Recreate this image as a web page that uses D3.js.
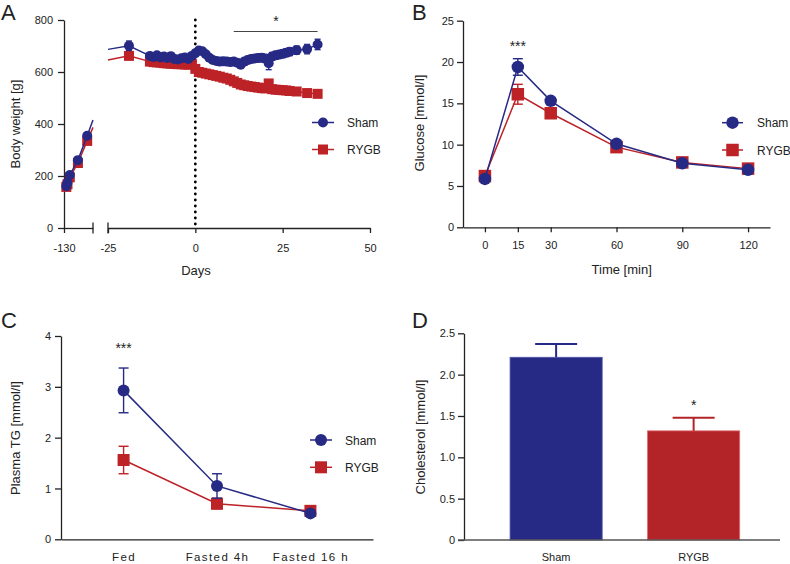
<!DOCTYPE html>
<html>
<head>
<meta charset="utf-8">
<script src="https://cdn.jsdelivr.net/npm/d3@7"></script>
<style>
  body { margin: 0; background: #fff; }
  svg text { font-family: "Liberation Sans", Arial, sans-serif; fill: #222; }
</style>
</head>
<body>
<div class="canvas"></div>
<script>
// ---- data ----
// A: body weight, early segment (before the axis break)
const earlyDays = [-128, -127, -125, -118, -110];
const earlySham = [161, 174, 204, 261, 355];
const earlyShamErr = [10, 8, 10, 12, 12];
const earlyRygb = [158, 168, 195, 250, 335];
const earlyRygbErr = [8, 8, 10, 12, 12];
// where the lines leave / enter the two axis segments
const leadOut = { day: -105, sham: 415, rygb: 387 };
const leadIn = { day: -25, sham: 687, rygb: 646 };

// A: late segment
const lateDays = [-19, -13, -12, -11, -10, -9, -8, -7, -6, -5, -4, -3, -2, -1, 0,
  1, 2, 3, 4, 5, 6, 7, 8, 9, 10, 11, 12, 13, 14, 15, 16, 17, 18, 19, 20, 21, 22, 23, 24, 25, 26, 27,
  29, 32, 35];
const lateSham = [701, 662, 658, 664, 656, 660, 654, 661, 650, 648, 653, 656, 650, 662, 672,
  683, 680, 668, 655, 646, 642, 640, 641, 640, 638, 640, 636, 628, 640, 646, 650, 652, 654, 655, 652, 634, 660, 664, 667, 670, 674, 678,
  684, 688, 706];
const lateShamErr = [18, 10, 9, 10, 8, 9, 8, 10, 8, 8, 9, 9, 8, 10, 12,
  10, 9, 8, 8, 7, 7, 7, 7, 8, 8, 9, 10, 14, 12, 14, 14, 14, 14, 15, 15, 25, 15, 15, 15, 15, 15, 15,
  16, 18, 20];
const lateRygb = [662, 640, 638, 637, 636, 634, 633, 632, 631, 630, 630, 629, 628, 632, 612,
  600, 597, 594, 591, 588, 585, 582, 578, 575, 570, 564, 558, 552, 549, 546, 544, 542, 540, 538, 537, 556, 534, 532, 531, 530, 529, 527,
  525, 519, 516];
const lateRygbErr = [10, 6, 6, 6, 6, 6, 6, 6, 6, 6, 6, 6, 6, 6, 8,
  6, 6, 6, 6, 6, 6, 6, 6, 6, 6, 6, 6, 6, 6, 6, 6, 6, 6, 6, 6, 14, 6, 6, 6, 6, 6, 6,
  6, 6, 8];

// B: glucose tolerance
const times = [0, 15, 30, 60, 90, 120];
const glucoseSham = [5.85, 19.4, 15.3, 10.1, 7.75, 6.95];
const glucoseShamErr = [0.2, 1.0, 0.35, 0.4, 0.25, 0.2];
const glucoseRygb = [6.2, 16.1, 13.8, 9.7, 7.85, 7.1];
const glucoseRygbErr = [0.3, 1.2, 0.45, 0.3, 0.3, 0.3];

// C: plasma TG
const tgGroups = ["Fed", "Fasted 4h", "Fasted 16 h"];
const tgSham = [2.93, 1.05, 0.51];
const tgShamErr = [0.44, 0.24, 0.05];
const tgRygb = [1.56, 0.7, 0.56];
const tgRygbErr = [0.27, 0.1, 0.05];

// D: cholesterol
const cholGroups = ["Sham", "RYGB"];
const cholMean = [2.21, 1.32];
const cholErr = [0.16, 0.16];

// ---- setup ----
const blue = "#262a84";
const red = "#bd2227";
const ink = "#222";

const svg = d3.select(".canvas").append("svg").attr("width", 790).attr("height", 564);

function styleAxis(g, size) {
  g.attr("font-family", null).attr("font-size", size || 11);
  g.selectAll("path, line").attr("stroke", ink).attr("stroke-width", 1.3);
  g.selectAll("text").attr("fill", ink);
  return g;
}

function panelLetter(x, y, t) {
  svg.append("text").attr("x", x).attr("y", y).attr("font-size", 22).text(t);
}

function yTitle(x, y, t) {
  svg.append("text")
    .attr("transform", `translate(${x},${y}) rotate(-90)`)
    .attr("text-anchor", "middle")
    .attr("font-size", 13)
    .text(t);
}

function marker(g, shape, cx, cy, size, color) {
  if (shape === "circle") {
    g.append("circle").attr("cx", cx).attr("cy", cy).attr("r", size / 2).attr("fill", color);
  } else {
    g.append("rect")
      .attr("x", cx - size / 2).attr("y", cy - size / 2)
      .attr("width", size).attr("height", size).attr("fill", color);
  }
}

// line + error bars + markers for one series
function series(g, xs, ys, es, x, y, color, shape, size, capW, extraLine) {
  const pts = xs.map((d, i) => ({ x: d, y: ys[i], e: es[i] }));
  const linePts = extraLine ? extraLine(pts) : pts;
  const line = d3.line().x((d) => x(d.x)).y((d) => y(d.y));
  g.append("path").datum(linePts)
    .attr("fill", "none").attr("stroke", color).attr("stroke-width", 1.5).attr("d", line);

  const eb = g.append("g").attr("stroke", color).attr("stroke-width", 1.4);
  pts.forEach((d) => {
    const px = x(d.x);
    eb.append("line").attr("x1", px).attr("x2", px).attr("y1", y(d.y - d.e)).attr("y2", y(d.y + d.e));
    [d.y - d.e, d.y + d.e].forEach((v) => {
      eb.append("line").attr("x1", px - capW / 2).attr("x2", px + capW / 2).attr("y1", y(v)).attr("y2", y(v));
    });
  });
  pts.forEach((d) => marker(g, shape, x(d.x), y(d.y), size, color));
}

function legend(x1, x2, yy, textX, shape, size, color, label) {
  const g = svg.append("g");
  g.append("line").attr("x1", x1).attr("x2", x2).attr("y1", yy).attr("y2", yy)
    .attr("stroke", color).attr("stroke-width", 1.5);
  marker(g, shape, (x1 + x2) / 2, yy, size, color);
  g.append("text").attr("x", textX).attr("y", yy + 4.5).attr("font-size", 12).text(label);
}

function stars(x, y, t) {
  svg.append("text").attr("x", x).attr("y", y).attr("text-anchor", "middle")
    .attr("font-size", 14).text(t);
}

const plain = (d) => String(d);

// ================= A =================
const yA = d3.scaleLinear().domain([0, 800]).range([228, 20]);
const xA1 = d3.scaleLinear().domain([-130, -105]).range([64, 93]);
const xA2 = d3.scaleLinear().domain([-25, 50]).range([108, 370]);

const gA = svg.append("g");

styleAxis(gA.append("g").attr("transform", "translate(64,0)")
  .call(d3.axisLeft(yA).tickValues([0, 200, 400, 600, 800]).tickSize(6).tickPadding(5).tickSizeOuter(0)));
styleAxis(gA.append("g").attr("transform", "translate(0,228)")
  .call(d3.axisBottom(xA1).tickValues([-130]).tickFormat(plain).tickSize(5).tickPadding(11).tickSizeOuter(0)));
styleAxis(gA.append("g").attr("transform", "translate(0,228)")
  .call(d3.axisBottom(xA2).tickValues([-25, 0, 25, 50]).tickFormat(plain).tickSize(5).tickPadding(11).tickSizeOuter(0)));
// axis break marks
[xA1(leadOut.day), xA2(leadIn.day)].forEach((bx) => {
  gA.append("line").attr("x1", bx).attr("x2", bx).attr("y1", 222.5).attr("y2", 233.5)
    .attr("stroke", ink).attr("stroke-width", 1.3);
});

// dotted surgery line
gA.append("line").attr("x1", xA2(0)).attr("x2", xA2(0)).attr("y1", 20).attr("y2", 228)
  .attr("stroke", "#000").attr("stroke-width", 2.8)
  .attr("stroke-linecap", "round").attr("stroke-dasharray", "0 6");

series(gA, earlyDays, earlyRygb, earlyRygbErr, xA1, yA, red, "rect", 10, 6,
  (p) => p.concat([{ x: leadOut.day, y: leadOut.rygb }]));
series(gA, earlyDays, earlySham, earlyShamErr, xA1, yA, blue, "circle", 10, 6,
  (p) => p.concat([{ x: leadOut.day, y: leadOut.sham }]));
series(gA, lateDays, lateRygb, lateRygbErr, xA2, yA, red, "rect", 10, 6,
  (p) => [{ x: leadIn.day, y: leadIn.rygb }].concat(p));
series(gA, lateDays, lateSham, lateShamErr, xA2, yA, blue, "circle", 10, 6,
  (p) => [{ x: leadIn.day, y: leadIn.sham }].concat(p));

// significance bar
gA.append("line").attr("x1", xA2(11)).attr("x2", xA2(35)).attr("y1", 31.5).attr("y2", 31.5)
  .attr("stroke", "#444").attr("stroke-width", 1.2);
stars(276, 26, "*");

svg.append("text").attr("x", 196).attr("y", 275).attr("text-anchor", "middle")
  .attr("font-size", 13).text("Days");
yTitle(20, 124, "Body weight [g]");
panelLetter(1, 20, "A");
legend(312, 334, 122.5, 347, "circle", 10, blue, "Sham");
legend(312, 334, 149.5, 347, "rect", 10, red, "RYGB");

// ================= B =================
const xB = d3.scaleLinear().domain([-10, 130]).range([463, 770]);
const yB = d3.scaleLinear().domain([0, 25]).range([227.3, 20.7]);
const gB = svg.append("g");

styleAxis(gB.append("g").attr("transform", "translate(463,0)")
  .call(d3.axisLeft(yB).tickValues([0, 5, 10, 15, 20, 25]).tickSize(6).tickPadding(3).tickSizeOuter(0)));
styleAxis(gB.append("g").attr("transform", "translate(0,227.3)")
  .call(d3.axisBottom(xB).tickValues(times).tickSize(5).tickPadding(9).tickSizeOuter(0)));

series(gB, times, glucoseRygb, glucoseRygbErr, xB, yB, red, "rect", 12.5, 10);
series(gB, times, glucoseSham, glucoseShamErr, xB, yB, blue, "circle", 12.5, 10);

stars(xB(15), 51, "***");
svg.append("text").attr("x", 621.7).attr("y", 274).attr("text-anchor", "middle")
  .attr("font-size", 13).text("Time [min]");
yTitle(424, 123, "Glucose [mmol/l]");
panelLetter(412, 20, "B");
legend(722, 743, 122.7, 757, "circle", 12.5, blue, "Sham");
legend(722, 743, 150, 757, "rect", 12.5, red, "RYGB");

// ================= C =================
const xC = d3.scalePoint().domain(tgGroups).range([61, 373]).padding(0.67);
const yC = d3.scaleLinear().domain([0, 4]).range([539.3, 336]);
const gC = svg.append("g");

styleAxis(gC.append("g").attr("transform", "translate(61,0)")
  .call(d3.axisLeft(yC).tickValues([0, 1, 2, 3, 4]).tickFormat(plain).tickSize(6).tickPadding(4).tickSizeOuter(0)));
const xCAxis = gC.append("g").attr("transform", "translate(0,539.3)")
  .call(d3.axisBottom(xC).tickSize(0).tickPadding(14).tickSizeOuter(0));
styleAxis(xCAxis, 11.5);
xCAxis.selectAll("text").attr("letter-spacing", 1.4);

const xCnum = (i) => xC(tgGroups[i]);
const idx = tgGroups.map((d, i) => i);
series(gC, idx, tgRygb, tgRygbErr, xCnum, yC, red, "rect", 12, 10);
series(gC, idx, tgSham, tgShamErr, xCnum, yC, blue, "circle", 12, 10);

stars(xC("Fed"), 353, "***");
yTitle(19.5, 438, "Plasma TG [mmol/l]");
panelLetter(1, 328, "C");
legend(310, 332, 440, 345, "circle", 12, blue, "Sham");
legend(310, 332, 467.3, 345, "rect", 12, red, "RYGB");

// ================= D =================
const xD = d3.scaleBand().domain(cholGroups).range([464, 785.75]).paddingInner(0.33).paddingOuter(0.335);
const yD = d3.scaleLinear().domain([0, 2.5]).range([540, 333.3]);
const gD = svg.append("g");
const barFill = [blue, "#b32428"];
const barEdge = ["#5458a6", "#e0686c"];

gD.selectAll("rect.bar").data(cholMean).enter().append("rect")
  .attr("class", "bar")
  .attr("x", (d, i) => xD(cholGroups[i]))
  .attr("y", (d) => yD(d))
  .attr("width", xD.bandwidth())
  .attr("height", (d) => yD(0) - yD(d))
  .attr("fill", (d, i) => barFill[i])
  .attr("stroke", (d, i) => barEdge[i])
  .attr("stroke-width", 0.8);

cholMean.forEach((m, i) => {
  const cx = xD(cholGroups[i]) + xD.bandwidth() / 2;
  const eg = gD.append("g").attr("stroke", barFill[i]).attr("stroke-width", 2);
  eg.append("line").attr("x1", cx).attr("x2", cx).attr("y1", yD(m)).attr("y2", yD(m + cholErr[i]));
  eg.append("line").attr("x1", cx - 21).attr("x2", cx + 21)
    .attr("y1", yD(m + cholErr[i])).attr("y2", yD(m + cholErr[i]));
});

styleAxis(gD.append("g").attr("transform", "translate(464,0)")
  .call(d3.axisLeft(yD).tickValues([0, 0.5, 1, 1.5, 2, 2.5]).tickSize(6).tickPadding(3).tickSizeOuter(0)
    .tickFormat((d) => (d === 0 ? "0" : d3.format(".1f")(d)))));
gD.append("line").attr("x1", 458).attr("x2", 780).attr("y1", 540).attr("y2", 540)
  .attr("stroke", "#555").attr("stroke-width", 1.3);
styleAxis(gD.append("g").attr("transform", "translate(0,540)")
  .call(d3.axisBottom(xD).tickSize(0).tickPadding(13).tickSizeOuter(0)))
  .select(".domain").remove();

stars(xD("RYGB") + xD.bandwidth() / 2, 410, "*");
yTitle(425, 437, "Cholesterol [mmol/l]");
panelLetter(412, 328, "D");
</script>
</body>
</html>
